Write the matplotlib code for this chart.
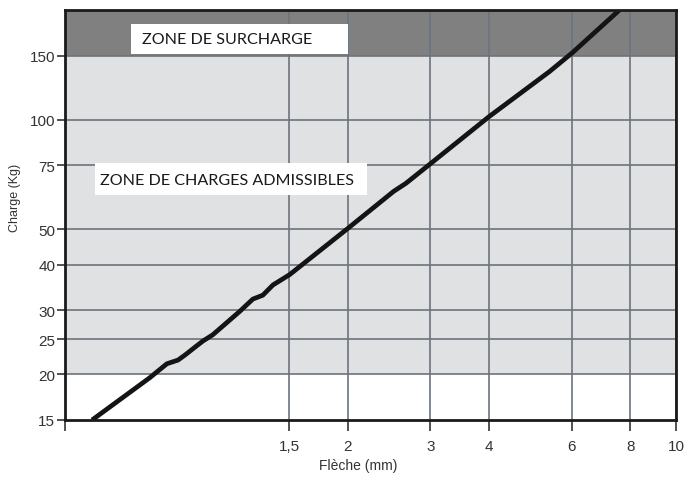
import numpy as np
import matplotlib.pyplot as plt
from matplotlib.patches import Rectangle

# deflection (mm) vs load (kg)
fleche = [0.571, 0.758, 0.824, 0.870, 0.900, 0.955, 0.983, 1.032, 1.178,
          1.256, 1.319, 1.386, 1.505, 2.0, 2.505, 2.66, 3.01, 4.0,
          5.38, 6.02, 7.58]
charge = [15, 19.6, 21.4, 21.9, 22.6, 24.0, 24.7, 25.7, 29.8,
          32.2, 33.0, 35.2, 37.6, 50.3, 63.6, 66.9, 76.0, 102,
          135.6, 152.8, 200]

x_ticks = [0.5, 1.5, 2, 3, 4, 6, 8, 10]
x_labels = ['', '1,5', '2', '3', '4', '6', '8', '10']
y_ticks = [15, 20, 25, 30, 40, 50, 75, 100, 150]
y_labels = [str(v) for v in y_ticks]

x_min, x_max = 0.5, 10
y_min, y_max = 15, 200
limite_admissible = 150
limite_basse = 20

plt.rcParams['font.family'] = ['Liberation Sans', 'DejaVu Sans']

fig = plt.figure(figsize=(6.89, 4.81), dpi=100)
ax = fig.add_axes([65/689, 1-421/481, (676-65)/689, (421-11)/481])
ax.set_xscale('log')
ax.set_yscale('log')
ax.set_xlim(x_min, x_max)
ax.set_ylim(y_min, y_max)

# zones
ax.axhspan(limite_basse, limite_admissible, color='#e0e1e3', zorder=0, lw=0)
ax.axhspan(limite_admissible, y_max, color='#808080', zorder=0, lw=0)

# grid
for v in x_ticks[1:]:
    ax.axvline(v, color='#6b737c', lw=1.2, zorder=1)
for v in y_ticks[1:]:
    ax.axhline(v, color='#6b737c', lw=1.2, zorder=1)

ax.plot(fleche, charge, color='#141414', lw=3.4, solid_capstyle='butt',
        solid_joinstyle='round', zorder=3)

ax.xaxis.set_major_locator(plt.FixedLocator(x_ticks))
ax.xaxis.set_major_formatter(plt.FixedFormatter(x_labels))
ax.xaxis.set_minor_locator(plt.NullLocator())
ax.yaxis.set_major_locator(plt.FixedLocator(y_ticks))
ax.yaxis.set_major_formatter(plt.FixedFormatter(y_labels))
ax.yaxis.set_minor_locator(plt.NullLocator())
ax.tick_params(axis='x', length=8, width=1.2, color='#333333', pad=6,
               labelsize=11, labelcolor='#333333', direction='out')
ax.tick_params(axis='y', length=6, width=1.2, color='#333333', pad=1,
               labelsize=11, labelcolor='#333333', direction='out')

for s in ax.spines.values():
    s.set_linewidth(2.0)
    s.set_color('#1a1a1a')
    s.set_zorder(4)

# zone labels
ax.add_patch(Rectangle((131/689, 1-55/481), (348-131)/689, 30/481,
                       transform=fig.transFigure, facecolor='white',
                       edgecolor='none', zorder=5))
fig.text(142/689, 1-40/481, 'ZONE DE SURCHARGE', fontsize=11.6,
         family=['Lato', 'DejaVu Sans'], color='#1a1a1a',
         va='center', zorder=6)
ax.add_patch(Rectangle((95/689, 1-196/481), (367-95)/689, 32/481,
                       transform=fig.transFigure, facecolor='white',
                       edgecolor='none', zorder=5))
fig.text(100/689, 1-181/481, 'ZONE DE CHARGES ADMISSIBLES', fontsize=11.6,
         family=['Lato', 'DejaVu Sans'], color='#1a1a1a',
         va='center', zorder=6)

fig.text(358/689, 1-466/481, 'Flèche (mm)', fontsize=10, color='#333333',
         ha='center', va='center')
fig.text(15/689, 1-198/481, 'Charge (Kg)', fontsize=9, color='#333333',
         ha='center', va='center', rotation=90)

fig.savefig('out.png', dpi=100)
